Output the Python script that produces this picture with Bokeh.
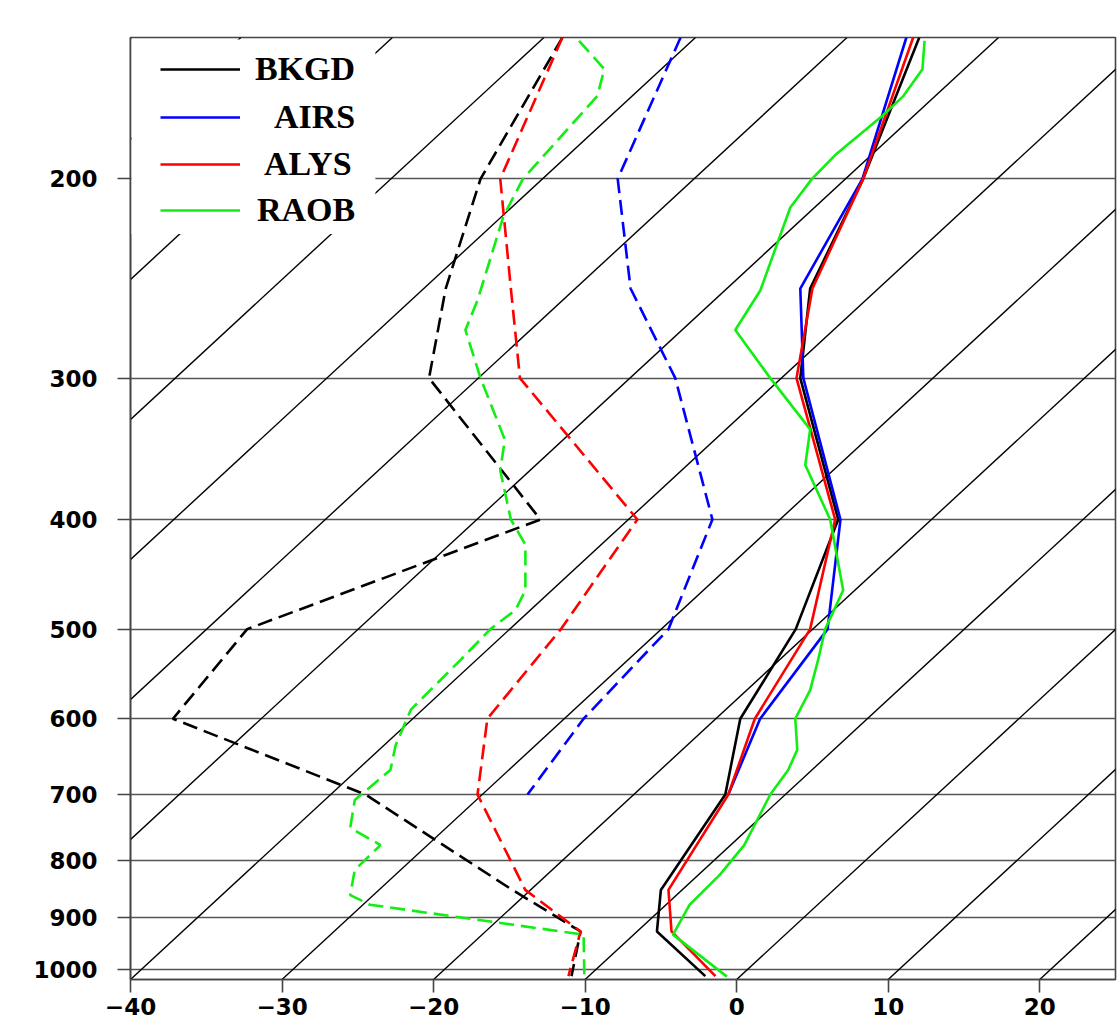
import math
from bokeh.plotting import figure
from bokeh.models import Range1d, FixedTicker, Legend, LegendItem, NumeralTickFormatter, BoxAnnotation
from bokeh.embed import file_html
from bokeh.resources import INLINE

# ---------------- data (x positions on the skewed temperature axis, deg C) -------------
P_STD = [150, 200, 250, 300, 400, 500, 600, 700, 850, 925, 1013]
P_AIRS = [150, 200, 250, 300, 400, 500, 600, 700]

BKGD_T = [12.05, 8.35, 4.85, 4.2, 6.7, 3.9, 0.24, -0.75, -5.0, -5.26, -2.07]
BKGD_TD = [-11.5, -16.9, -19.2, -20.3, -12.95, -32.3, -37.2, -24.5, -14.8, -10.3, -10.9]

AIRS_T = [11.2, 8.3, 4.2, 4.4, 6.85, 6.0, 1.55, -0.55]
AIRS_TD = [-3.7, -7.85, -7.0, -4.05, -1.6, -4.5, -10.1, -13.8]

ALYS_T = [11.65, 8.35, 5.0, 3.95, 6.5, 4.85, 1.2, -0.55, -4.5, -4.3, -1.4]
ALYS_TD = [-11.5, -15.6, -14.9, -14.3, -6.55, -11.6, -16.45, -17.1, -13.95, -10.3, -11.1]

RAOB_T_P = [151, 160, 169, 176, 190, 200, 212, 251, 272, 300, 333, 358, 400, 462,
            500, 532, 566, 600, 639, 666, 700, 776, 824, 876, 931, 1014]
RAOB_T = [12.4, 12.26, 11.0, 9.6, 6.6, 4.97, 3.54, 1.56, -0.09, 2.22, 4.85, 4.53, 6.17, 7.03,
          5.84, 5.38, 4.85, 3.87, 4.0, 3.4, 2.22, 0.5, -1.1, -3.1, -4.2, -0.64]

RAOB_TD_P = [151, 160, 169, 200, 216, 256, 272, 300, 340, 362, 400, 421, 462, 481, 500,
             532, 589, 633, 666, 708, 749, 776, 816, 859, 876, 931, 1014]
RAOB_TD = [-10.4, -8.73, -9.2, -14.1, -15.4, -17.1, -17.9, -16.9, -15.3, -15.6, -14.9, -13.94,
           -13.94, -14.6, -16.25, -18.2, -21.5, -22.5, -22.85, -25.2, -25.5, -23.5, -25.2,
           -25.5, -24.2, -10.1, -10.05]

LABELS = ["BKGD", "AIRS", "ALYS", "RAOB"]
X_TICKS = [-40, -30, -20, -10, 0, 10, 20]
P_TICKS = [200, 300, 400, 500, 600, 700, 800, 900, 1000]
ISOTHERMS = list(range(-110, 30, 10))

P_BOT, P_TOP = 1020, 150
SKEW = 35.1  # skew of the isotherms, deg per ln(p)

# ---------------- figure ----------------
FRAME_H = 942
p = figure(width=1117, height=1027, output_backend="svg", toolbar_location=None,
           x_range=Range1d(-40, 25), y_range=Range1d(P_BOT, P_TOP),
           y_axis_type="log", min_border_left=130, min_border_right=2,
           min_border_top=37, min_border_bottom=48)
p.background_fill_color = "white"
p.border_fill_color = "white"
p.outline_line_color = "#444444"
p.outline_line_width = 1.6

# horizontal pressure grid
p.xgrid.visible = False
p.ygrid.ticker = FixedTicker(ticks=P_TICKS)
p.ygrid.grid_line_color = "#555555"
p.ygrid.grid_line_width = 1.6

# skewed isotherms
lnr = math.log(P_BOT / P_TOP)
p.segment(x0=ISOTHERMS, y0=[P_BOT] * len(ISOTHERMS),
          x1=[t + SKEW * lnr for t in ISOTHERMS], y1=[P_TOP] * len(ISOTHERMS),
          line_color="black", line_width=1.4)

GREEN = "#11ee11"
DASH = "15 7"
W = 2.6

r_bk = p.line(BKGD_T, P_STD, line_color="black", line_width=W)
p.line(BKGD_TD, P_STD, line_color="black", line_width=W, line_dash=DASH)
r_ai = p.line(AIRS_T, P_AIRS, line_color="#0000ff", line_width=W)
p.line(AIRS_TD, P_AIRS, line_color="#0000ff", line_width=W, line_dash=DASH)
r_al = p.line(ALYS_T, P_STD, line_color="#ff0000", line_width=W)
p.line(ALYS_TD, P_STD, line_color="#ff0000", line_width=W, line_dash=DASH)
r_ra = p.line(RAOB_T, RAOB_T_P, line_color=GREEN, line_width=W)
p.line(RAOB_TD, RAOB_TD_P, line_color=GREEN, line_width=W, line_dash=DASH)

# axes
for ax in (p.xaxis[0], p.yaxis[0]):
    ax.axis_line_color = "#444444"
    ax.axis_line_width = 1.6
    ax.major_tick_line_color = "#444444"
    ax.major_tick_line_width = 1.6
    ax.major_tick_in = 0
    ax.minor_tick_line_color = None
    ax.major_label_text_font = "DejaVu Sans"
    ax.major_label_text_font_style = "bold"
    ax.major_label_text_font_size = "23px"
    ax.major_label_text_color = "black"

p.xaxis[0].ticker = FixedTicker(ticks=X_TICKS)
p.xaxis[0].major_label_overrides = {t: (("\u2212" + str(-t)) if t < 0 else str(t)) for t in X_TICKS}
p.xaxis[0].major_tick_out = 13
p.xaxis[0].major_label_standoff = 5

p.yaxis[0].ticker = FixedTicker(ticks=P_TICKS)
p.yaxis[0].formatter = NumeralTickFormatter(format="0")
p.yaxis[0].major_tick_out = 13
p.yaxis[0].major_label_standoff = 20

# white legend panel (blank area in the upper left corner, frame lines left visible)
p.add_layout(BoxAnnotation(left=-39.93, right=-23.84, top=150.6, bottom=223.7,
                           fill_color="white", fill_alpha=1.0, line_alpha=0))

# one legend per entry, so that the labels end at a common right edge
renderers = [r_bk, r_ai, r_al, r_ra]
standoffs = [15, 34, 24, 17]
tops = [13, 61, 108, 154]
ROW_H = 38
for lab, r, so, top in zip(LABELS, renderers, standoffs, tops):
    lg = Legend(items=[LegendItem(label=lab, renderers=[r])],
                location=(30, FRAME_H - top - ROW_H), margin=0, padding=0,
                glyph_width=80, glyph_height=4, label_height=4,
                label_standoff=so, label_text_font="Liberation Serif",
                label_text_font_style="bold", label_text_font_size="34px",
                label_text_color="black",
                background_fill_alpha=0.0, border_line_alpha=0)
    p.add_layout(lg)

open("out.html", "w").write(file_html(p, INLINE))
